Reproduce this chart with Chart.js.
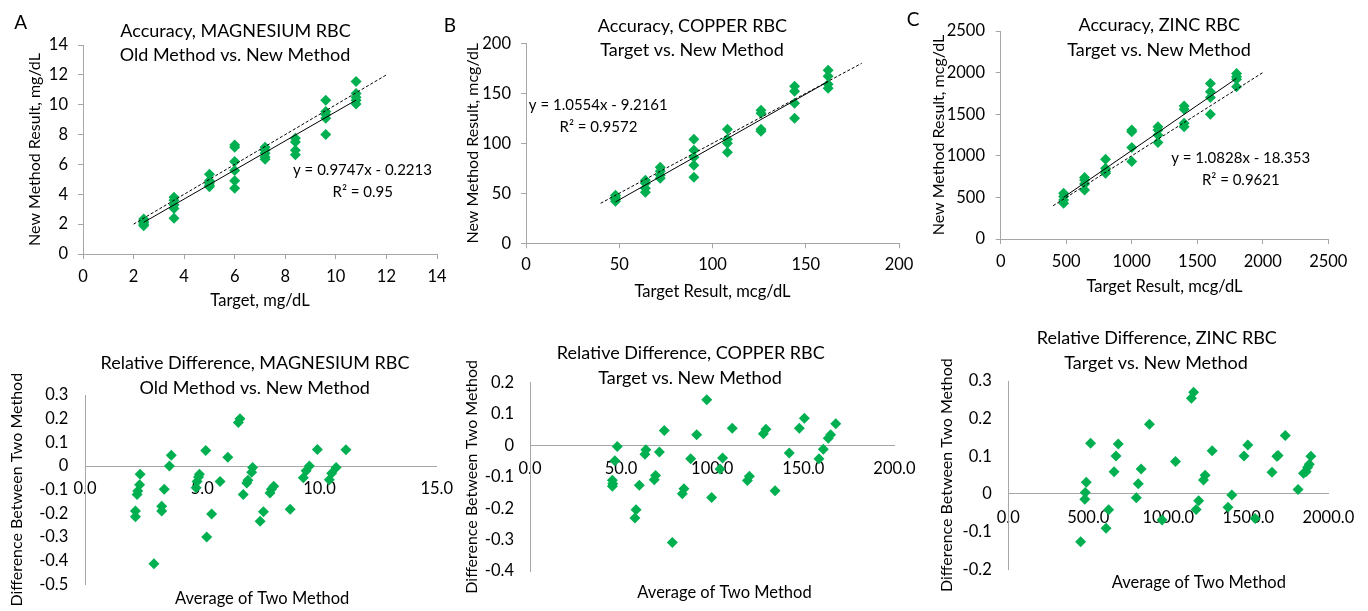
<!DOCTYPE html>
<html>
<head>
<meta charset="utf-8">
<title>Accuracy and relative difference, RBC magnesium / copper / zinc</title>
<script src="https://cdn.jsdelivr.net/npm/chart.js@4.4.1/dist/chart.umd.min.js"></script>
<style>
  html, body { margin: 0; padding: 0; background: #fff; }
  body { position: relative; width: 1368px; height: 611px; overflow: hidden; }
  canvas { position: absolute; }
</style>
</head>
<body>
<canvas id="chartMgAcc" width="470" height="312" style="left:0px;top:0px"></canvas>
<canvas id="chartCuAcc" width="500" height="312" style="left:440px;top:0px"></canvas>
<canvas id="chartZnAcc" width="468" height="312" style="left:900px;top:0px"></canvas>
<canvas id="chartMgDiff" width="470" height="299" style="left:0px;top:312px"></canvas>
<canvas id="chartCuDiff" width="500" height="299" style="left:440px;top:312px"></canvas>
<canvas id="chartZnDiff" width="468" height="299" style="left:900px;top:312px"></canvas>
<script>
// ---- accuracy: target vs new method ----
var mgTarget = [2.4, 2.4, 2.4, 2.4, 2.4, 3.6, 3.6, 3.6, 3.6, 3.6, 5.0, 5.0, 5.0, 5.0, 5.0, 6.0, 6.0, 6.0, 6.0, 6.0, 6.0,
                7.2, 7.2, 7.2, 7.2, 7.2, 8.4, 8.4, 8.4, 8.4, 9.6, 9.6, 9.6, 9.6, 9.6, 10.8, 10.8, 10.8, 10.8, 10.8];
var mgNew = [2.35, 2.2, 2.1, 2.0, 1.9, 3.8, 3.6, 3.3, 3.05, 2.4, 5.35, 4.9, 4.75, 4.6, 4.5, 7.3, 7.15, 6.2, 5.6, 4.9, 4.4,
             7.15, 6.95, 6.75, 6.5, 6.35, 7.75, 7.5, 6.95, 6.65, 10.3, 9.55, 9.35, 9.1, 8.0, 11.55, 10.75, 10.5, 10.3, 10.05];
var mgTrendX = [2.4, 10.8];
var mgTrendY = [2.12, 10.31];
var mgRefLine = [2, 12];
var mgAccTicks = [0, 2, 4, 6, 8, 10, 12, 14];

var cuTarget = [48, 48, 48, 48, 64, 64, 64, 64, 72, 72, 72, 72, 90, 90, 90, 90, 90, 108, 108, 108, 108,
                126, 126, 126, 126, 144, 144, 144, 144, 162, 162, 162, 162];
var cuNew = [48, 46, 44, 42, 63, 60, 55, 51, 76, 72, 68, 65, 104, 93, 86, 78, 66, 114, 104, 100, 91,
             133, 130, 114, 112, 157, 152, 140, 125, 173, 167, 159, 155];
var cuTrendX = [48, 162];
var cuTrendY = [41.4, 161.8];
var cuRefLine = [40, 180];
var cuAccTicks = [0, 50, 100, 150, 200];

var znTarget = [480, 480, 480, 480, 640, 640, 640, 640, 800, 800, 800, 800, 1000, 1000, 1000, 1000,
                1200, 1200, 1200, 1200, 1400, 1400, 1400, 1400, 1600, 1600, 1600, 1600, 1800, 1800, 1800, 1800];
var znNew = [550, 510, 470, 430, 740, 710, 660, 590, 960, 850, 810, 790, 1310, 1290, 1100, 930,
             1350, 1310, 1250, 1160, 1600, 1560, 1390, 1350, 1870, 1770, 1700, 1500, 1990, 1950, 1920, 1830];
var znTrendX = [480, 1800];
var znTrendY = [501, 1931];
var znRefLine = [400, 2000];
var znAccTicks = [0, 500, 1000, 1500, 2000, 2500];

// ---- relative difference vs average of the two methods ----
var mgAvg = [2.35, 2.33, 2.25, 2.22, 2.15, 2.15, 2.94, 3.27, 3.27, 3.38, 3.6, 3.68, 4.74, 4.78, 4.84, 4.88, 5.15, 5.19, 5.4, 5.76, 6.09,
             6.54, 6.61, 6.75, 6.9, 6.95, 7.11, 7.15, 7.47, 7.61, 7.89, 7.95, 8.05, 8.75, 9.31, 9.43, 9.57, 9.91, 10.42, 10.52, 10.71, 11.13];
var mgDiff = [-0.035, -0.079, -0.105, -0.12, -0.19, -0.214, -0.413, -0.19, -0.17, -0.098, 0.0, 0.046, -0.092, -0.065, -0.046, -0.035, 0.066, -0.30, -0.203, -0.065, 0.037,
              0.184, 0.2, -0.12, -0.072, -0.06, -0.026, -0.006, -0.233, -0.193, -0.114, -0.098, -0.085, -0.183, -0.05, -0.02, 0.0, 0.07, -0.058, -0.031, -0.006, 0.069];
var mgDiffXTicks = [0, 5, 10, 15];
var mgDiffYTicks = [-0.5, -0.4, -0.3, -0.2, -0.1, 0, 0.1, 0.2, 0.3];

var cuAvg = [45.2, 45.4, 45.2, 46.6, 47.9, 57.6, 58.2, 60, 63.1, 63.6, 68.2, 68.9, 71, 73.7, 78.1, 83.6, 84.5, 88.2, 91.5,
             97, 99.7, 104.3, 105.7, 111, 119.3, 120.4, 128.1, 129.5, 134.5, 142.3, 147.8, 150.6, 158.6, 161, 163.7, 165, 167.8];
var cuDiff = [-0.111, -0.122, -0.13, -0.049, -0.003, -0.231, -0.205, -0.127, -0.028, -0.014, -0.109, -0.096, -0.021, 0.048, -0.309, -0.154, -0.138, -0.042, 0.034,
              0.146, -0.166, -0.075, -0.04, 0.055, -0.112, -0.098, 0.037, 0.052, -0.144, -0.024, 0.055, 0.087, -0.042, -0.012, 0.023, 0.034, 0.069];
var cuDiffXTicks = [0, 50, 100, 150, 200];
var cuDiffYTicks = [-0.4, -0.3, -0.2, -0.1, 0, 0.1, 0.2];

var znAvg = [452, 478, 481, 487, 514, 611, 627, 661, 673, 687, 800, 812, 830, 882, 961, 1045, 1144, 1158, 1174, 1190,
             1220, 1230, 1274, 1373, 1397, 1473, 1497, 1543, 1648, 1678, 1686, 1731, 1811, 1845, 1861, 1871, 1881, 1891];
var znDiff = [-0.127, -0.014, 0.004, 0.031, 0.135, -0.091, -0.042, 0.059, 0.101, 0.133, -0.01, 0.027, 0.066, 0.185, -0.069, 0.086, 0.254, 0.27, -0.041, -0.018,
              0.037, 0.05, 0.115, -0.035, -0.003, 0.101, 0.13, -0.065, 0.058, 0.1, 0.102, 0.155, 0.012, 0.055, 0.059, 0.071, 0.079, 0.1];
var znDiffXTicks = [0, 500, 1000, 1500, 2000];
var znDiffYTicks = [-0.2, -0.1, 0, 0.1, 0.2, 0.3];

var GREEN = '#00b050';
var AXIS_GREY = '#a6a6a6';
var FONT = 'Lato, "Open Sans", sans-serif';

Chart.defaults.font.family = FONT;
Chart.defaults.font.size = 16.5;
Chart.defaults.color = '#000';

// titles, panel letters and equations sit inside the plot like in the Excel original
var overlayText = {
    id: 'overlayText',
    afterDraw: function(chart, args, opts) {
        var ctx = chart.ctx;
        ctx.save();
        ctx.fillStyle = '#000';
        ctx.textAlign = 'center';
        ctx.textBaseline = 'middle';
        opts.items.forEach(function(t) {
            ctx.font = t.size + 'px ' + FONT;
            ctx.fillText(t.text, t.x - opts.left, t.y - opts.top);
        });
        ctx.restore();
    }
};

function pts(xs, ys) {
    return xs.map(function(x, i) { return {x: x, y: ys[i]}; });
}

function fixedTicks(values) {
    return function(scale) {
        scale.ticks = values.map(function(v) { return {value: v}; });
    };
}

function makeChart(p) {
    var acc = p.kind === 'acc';
    var datasets = [];
    if (acc) {
        datasets.push({type: 'line', data: pts(p.trendX, p.trendY), borderColor: '#000', borderWidth: 1, pointRadius: 0});
        datasets.push({type: 'line', data: pts(p.refLine, p.refLine), borderColor: '#000', borderWidth: 1, borderDash: [3, 2], pointRadius: 0});
    }
    datasets.push({data: pts(p.xs, p.ys), pointStyle: 'rectRot', pointRadius: 5.5, borderWidth: 0, backgroundColor: GREEN});

    var axisH = p.top + p.h - p.area[3];
    return new Chart(document.getElementById(p.id), {
        type: 'scatter',
        data: {datasets: datasets},
        options: {
            responsive: false,
            animation: false,
            events: [],
            layout: {
                padding: {left: 0, top: p.area[1] - p.top, right: p.left + p.w - p.area[2], bottom: acc ? 0 : axisH}
            },
            plugins: {
                legend: {display: false},
                tooltip: {enabled: false},
                overlayText: {left: p.left, top: p.top, items: p.texts}
            },
            scales: {
                x: {
                    type: 'linear',
                    position: acc ? 'bottom' : {y: 0},
                    min: p.xTicks[0],
                    max: p.xTicks[p.xTicks.length - 1],
                    afterBuildTicks: fixedTicks(p.xTicks),
                    afterFit: acc ? function(s) { s.height = axisH; } : undefined,
                    border: {color: AXIS_GREY, width: 1},
                    grid: acc ? {drawOnChartArea: false, drawTicks: true, tickLength: 5, color: AXIS_GREY}
                              : {display: false, drawTicks: false},
                    ticks: {
                        padding: p.xPad, autoSkip: false, maxRotation: 0,
                        callback: acc ? function(v) { return String(v); } : function(v) { return v.toFixed(1); }
                    },
                    title: acc ? {display: true, text: p.xTitle, padding: {top: 0, bottom: p.xTitlePad}}
                               : {display: false}
                },
                y: {
                    type: 'linear',
                    position: 'left',
                    min: p.yTicks[0],
                    max: p.yTicks[p.yTicks.length - 1],
                    afterBuildTicks: fixedTicks(p.yTicks),
                    afterFit: function(s) { s.width = p.area[0] - p.left; },
                    border: {color: AXIS_GREY, width: 1},
                    grid: acc ? {drawOnChartArea: false, drawTicks: true, tickLength: 5, color: AXIS_GREY}
                              : {display: false, drawTicks: false},
                    ticks: {
                        padding: p.yPad, autoSkip: false,
                        callback: function(v) { return String(Math.round(v * 10) / 10); }
                    },
                    title: {display: true, text: p.yTitle, font: {size: 16}, padding: {top: p.yTitlePad, bottom: 0}}
                }
            }
        },
        plugins: [overlayText]
    });
}

makeChart({
    id: 'chartMgAcc', kind: 'acc', left: 0, top: 0, w: 470, h: 312, area: [83, 45, 437, 254],
    xs: mgTarget, ys: mgNew, trendX: mgTrendX, trendY: mgTrendY, refLine: mgRefLine,
    xTicks: mgAccTicks, yTicks: mgAccTicks, xPad: 8.1, yPad: 10,
    xTitle: 'Target, mg/dL', xTitlePad: 1.1, yTitle: 'New Method Result, mg/dL', yTitlePad: 25.4,
    texts: [
        {text: 'A', x: 20.7, y: 23.3, size: 19},
        {text: 'Accuracy, MAGNESIUM RBC', x: 235.5, y: 31, size: 18},
        {text: 'Old Method vs. New Method', x: 235, y: 55, size: 18},
        {text: 'y = 0.9747x - 0.2213', x: 362.5, y: 170, size: 15},
        {text: 'R\u00b2 = 0.95', x: 362.8, y: 192, size: 15}
    ]
});

makeChart({
    id: 'chartCuAcc', kind: 'acc', left: 440, top: 0, w: 500, h: 312, area: [526, 43.3, 899, 243.3],
    xs: cuTarget, ys: cuNew, trendX: cuTrendX, trendY: cuTrendY, refLine: cuRefLine,
    xTicks: cuAccTicks, yTicks: cuAccTicks, xPad: 6.8, yPad: 10,
    xTitle: 'Target Result, mcg/dL', xTitlePad: 10.4, yTitle: 'New Method Result, mcg/dL', yTitlePad: 23.7,
    texts: [
        {text: 'B', x: 450, y: 26, size: 19},
        {text: 'Accuracy, COPPER RBC', x: 692.5, y: 26, size: 18},
        {text: 'Target vs. New Method', x: 692, y: 50, size: 18},
        {text: 'y = 1.0554x - 9.2161', x: 598.3, y: 105, size: 15},
        {text: 'R\u00b2 = 0.9572', x: 598.5, y: 126.7, size: 15}
    ]
});

makeChart({
    id: 'chartZnAcc', kind: 'acc', left: 900, top: 0, w: 468, h: 312, area: [1000.7, 31, 1328.3, 239],
    xs: znTarget, ys: znNew, trendX: znTrendX, trendY: znTrendY, refLine: znRefLine,
    xTicks: znAccTicks, yTicks: znAccTicks, xPad: 8.1, yPad: 10.7,
    xTitle: 'Target Result, mcg/dL', xTitlePad: 15.1, yTitle: 'New Method Result, mcg/dL', yTitlePad: 29.7,
    texts: [
        {text: 'C', x: 913, y: 20, size: 19},
        {text: 'Accuracy, ZINC RBC', x: 1159.2, y: 25.3, size: 18},
        {text: 'Target vs. New Method', x: 1159, y: 50, size: 18},
        {text: 'y = 1.0828x - 18.353', x: 1240.7, y: 158, size: 15},
        {text: 'R\u00b2 = 0.9621', x: 1240.8, y: 180, size: 15}
    ]
});

makeChart({
    id: 'chartMgDiff', kind: 'diff', left: 0, top: 312, w: 470, h: 299, area: [85, 395, 436.7, 598.3],
    xs: mgAvg, ys: mgDiff, xTicks: mgDiffXTicks, yTicks: mgDiffYTicks, xPad: 12.7, yPad: 16.7,
    yTitle: 'Difference Between Two Method', yTitlePad: 7.4,
    texts: [
        {text: 'Relative Difference, MAGNESIUM RBC', x: 255, y: 363.3, size: 18},
        {text: 'Old Method vs. New Method', x: 254.7, y: 388.3, size: 18},
        {text: 'Average of Two Method', x: 262.2, y: 599, size: 16.5}
    ]
});

makeChart({
    id: 'chartCuDiff', kind: 'diff', left: 440, top: 312, w: 500, h: 299, area: [530, 382.7, 894.4, 571],
    xs: cuAvg, ys: cuDiff, xTicks: cuDiffXTicks, yTicks: cuDiffYTicks, xPad: 13.4, yPad: 16,
    yTitle: 'Difference Between Two Method', yTitlePad: 22.1,
    texts: [
        {text: 'Relative Difference, COPPER RBC', x: 690.8, y: 352.8, size: 18},
        {text: 'Target vs. New Method', x: 690, y: 378.3, size: 18},
        {text: 'Average of Two Method', x: 724.5, y: 592.5, size: 16.5}
    ]
});

makeChart({
    id: 'chartZnDiff', kind: 'diff', left: 900, top: 312, w: 468, h: 299, area: [1008.3, 381, 1342.7, 569.3],
    xs: znAvg, ys: znDiff, xTicks: znDiffXTicks, yTicks: znDiffYTicks, xPad: 13.8, yPad: 16.6,
    yTitle: 'Difference Between Two Method', yTitlePad: 37.1,
    texts: [
        {text: 'Relative Difference, ZINC RBC', x: 1156.8, y: 338.3, size: 18},
        {text: 'Target vs. New Method', x: 1156, y: 363.3, size: 18},
        {text: 'Average of Two Method', x: 1198.8, y: 582.5, size: 16.5}
    ]
});
</script>
</body>
</html>
